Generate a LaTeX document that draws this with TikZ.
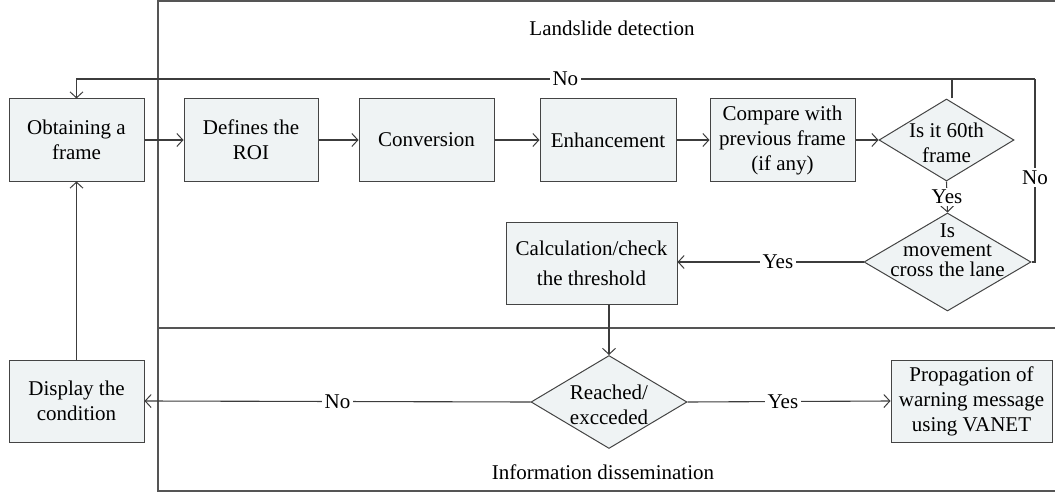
\documentclass[tikz,border=0pt]{standalone}
\usepackage{fontspec}
\setmainfont{Liberation Serif}
\usetikzlibrary{shapes.geometric,arrows.meta}
\definecolor{boxfill}{HTML}{EFF3F4}
\definecolor{boxdraw}{HTML}{444444}
\definecolor{framecol}{HTML}{555555}
\definecolor{linecol}{HTML}{3C3C3C}
\tikzset{
  txt/.style={font=\fontsize{21}{25}\selectfont},
  stepbox/.style={draw=boxdraw, line width=1pt, fill=boxfill, minimum height=82pt,
    inner sep=0pt, align=center, txt},
  dia/.style={draw=boxdraw, line width=1pt, fill=boxfill, diamond, inner sep=0pt},
  conn/.style={draw=linecol, line width=1.1pt, -{Straight Barb[length=6pt,width=13pt,line width=1pt]}},
  plain/.style={draw=linecol, line width=1.1pt},
  lbl/.style={fill=white, inner sep=2.5pt, txt},
  framel/.style={draw=framecol, line width=1.4pt}
}
\begin{document}
\begin{tikzpicture}[x=1pt,y=-1pt]
\useasboundingbox (0,0) rectangle (1055,492);
% frame
\draw[framel] (1055,1) -- (158,1) -- (158,491) -- (1055,491);
\draw[framel] (158,328) -- (1055,328);
\node[txt] (ttop) at (612,28) {Landslide detection};
\node[txt] (tbot) at (603,472) {Information dissemination};

% boxes
\node[stepbox, minimum width=135pt] (ob) at (76.5,140) {Obtaining a\\frame};
\node[stepbox, minimum width=134pt] (roi) at (251,140) {Defines the\\ROI};
\node[stepbox, minimum width=135pt] (conv) at (426.5,140) {Conversion};
\node[stepbox, minimum width=136pt] (enh) at (608,140) {Enhancement};
\node[stepbox, minimum width=145pt] (cmp) at (782.5,140) {Compare with\\previous frame\\(if any)};
\node[dia, minimum width=135pt, minimum height=82pt] (d1) at (946.5,140) {};
\node[txt, align=center] (d1t) at (946.5,143) {Is it 60th\\frame};
\node[dia, minimum width=167pt, minimum height=98pt] (d2) at (947.5,262) {};
\node[align=center, font=\fontsize{21}{19.5}\selectfont] (d2t) at (947.5,250) {Is\\movement\\cross the lane};
\node[stepbox, minimum width=171pt, font=\fontsize{21}{30}\selectfont] (calc) at (591.5,263) {Calculation/check\\the threshold};
\node[dia, minimum width=156pt, minimum height=93pt] (d3) at (609,402) {};
\node[txt, align=center] (d3t) at (609,405) {Reached/\\excceded};
\node[stepbox, minimum width=161pt] (prop) at (971.5,401) {Propagation of\\warning message\\using VANET};
\node[stepbox, minimum width=135pt] (disp) at (76.5,401) {Display the\\condition};

\coordinate (rb) at (1035,262);
\coordinate (rt) at (1035,79);
\coordinate (lt) at (76.5,79);
\coordinate (mt) at (952,79);

% connectors
\draw[conn] (ob.east) -- (roi.west);
\draw[conn] (roi.east) -- (conv.west);
\draw[conn] (conv.east) -- (enh.west);
\draw[conn] (enh.east) -- (cmp.west);
\draw[conn] (cmp.east) -- (d1.west);
\draw[conn] (d1.south) -- node[lbl, pos=0.5] {Yes} (d2.north);
\draw[conn] (d2.west) -- node[lbl, pos=0.46] {Yes} (d2.west -| calc.east);
\draw[conn] (calc.south -| d3.north) -- (d3.north);
\draw[conn] (d3.east) -- node[lbl, pos=0.47] {Yes} (prop.west);
\draw[conn] (d3.west) -- node[lbl, pos=0.5] {No} (disp.east);
\draw[conn] (disp.north) -- (ob.south);
\draw[plain] (d2.east) -- (rb) -- node[lbl, pos=0.46] {No} (rt);
\draw[conn] (rt) -- node[lbl, pos=0.49] {No} (lt) -- (ob.north);
\draw[plain] (mt |- d1.north) -- (mt);
\end{tikzpicture}
\end{document}
